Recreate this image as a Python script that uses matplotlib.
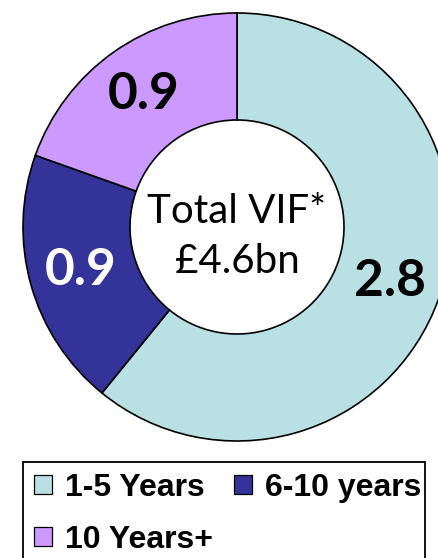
import matplotlib
matplotlib.use("Agg")
import matplotlib.pyplot as plt
from matplotlib.patches import Patch, Rectangle

# data
categories = ["1-5 Years", "6-10 years", "10 Years+"]
values = [2.8, 0.9, 0.9]
value_labels = ["2.8", "0.9", "0.9"]
colors = ["#B9E0E3", "#333399", "#CC99FF"]
label_colors = ["black", "white", "black"]
centre_text = "Total VIF*\n£4.6bn"

W, H = 439, 558
fig = plt.figure(figsize=(W / 100, H / 100), dpi=100)

# donut centre / radius in pixels (from top-left)
cx, cy, r = 237, 227, 214
ax = fig.add_axes([(cx - r) / W, (H - cy - r) / H, 2 * r / W, 2 * r / H])

wedges, texts = ax.pie(values, labels=value_labels, colors=colors, startangle=90,
                       counterclock=False, radius=1, labeldistance=0.76,
                       wedgeprops=dict(width=0.5, edgecolor="black", linewidth=1.2),
                       textprops=dict(fontsize=37, family="Lato", fontweight="bold",
                                      ha="center", va="center"))
for t, c in zip(texts, label_colors):
    t.set_color(c)
    t.set_horizontalalignment("center")

ax.text(0, -0.045, centre_text, ha="center", va="center", fontsize=29,
        family="Lato", fontweight="normal", linespacing=1.45)
ax.set_xlim(-1, 1)
ax.set_ylim(-1, 1)
ax.set_aspect("equal")
ax.axis("off")

# legend box runs off the bottom of the picture
fig.patches.append(Rectangle((23 / W, -0.05), (425 - 23) / W, 0.05 + (H - 462) / H,
                             transform=fig.transFigure, facecolor="white",
                             edgecolor="black", linewidth=1.3, zorder=1))

# legend is filled column by column, so reorder to read row by row
order = [0, 2, 1]
handles = [Patch(facecolor=colors[i], edgecolor="black", linewidth=0.9) for i in order]
labels = [categories[i] for i in order]
leg = fig.legend(handles, labels, ncol=2, loc="upper left",
                 bbox_to_anchor=(34 / W, 1 - 473 / H), frameon=False,
                 prop=dict(family="Liberation Sans", weight="bold", size=23),
                 handlelength=0.56, handleheight=0.56, handletextpad=0.42,
                 columnspacing=0.65, borderpad=0, labelspacing=0.68,
                 borderaxespad=0)
leg.set_zorder(2)

fig.savefig("out.png", dpi=100)
